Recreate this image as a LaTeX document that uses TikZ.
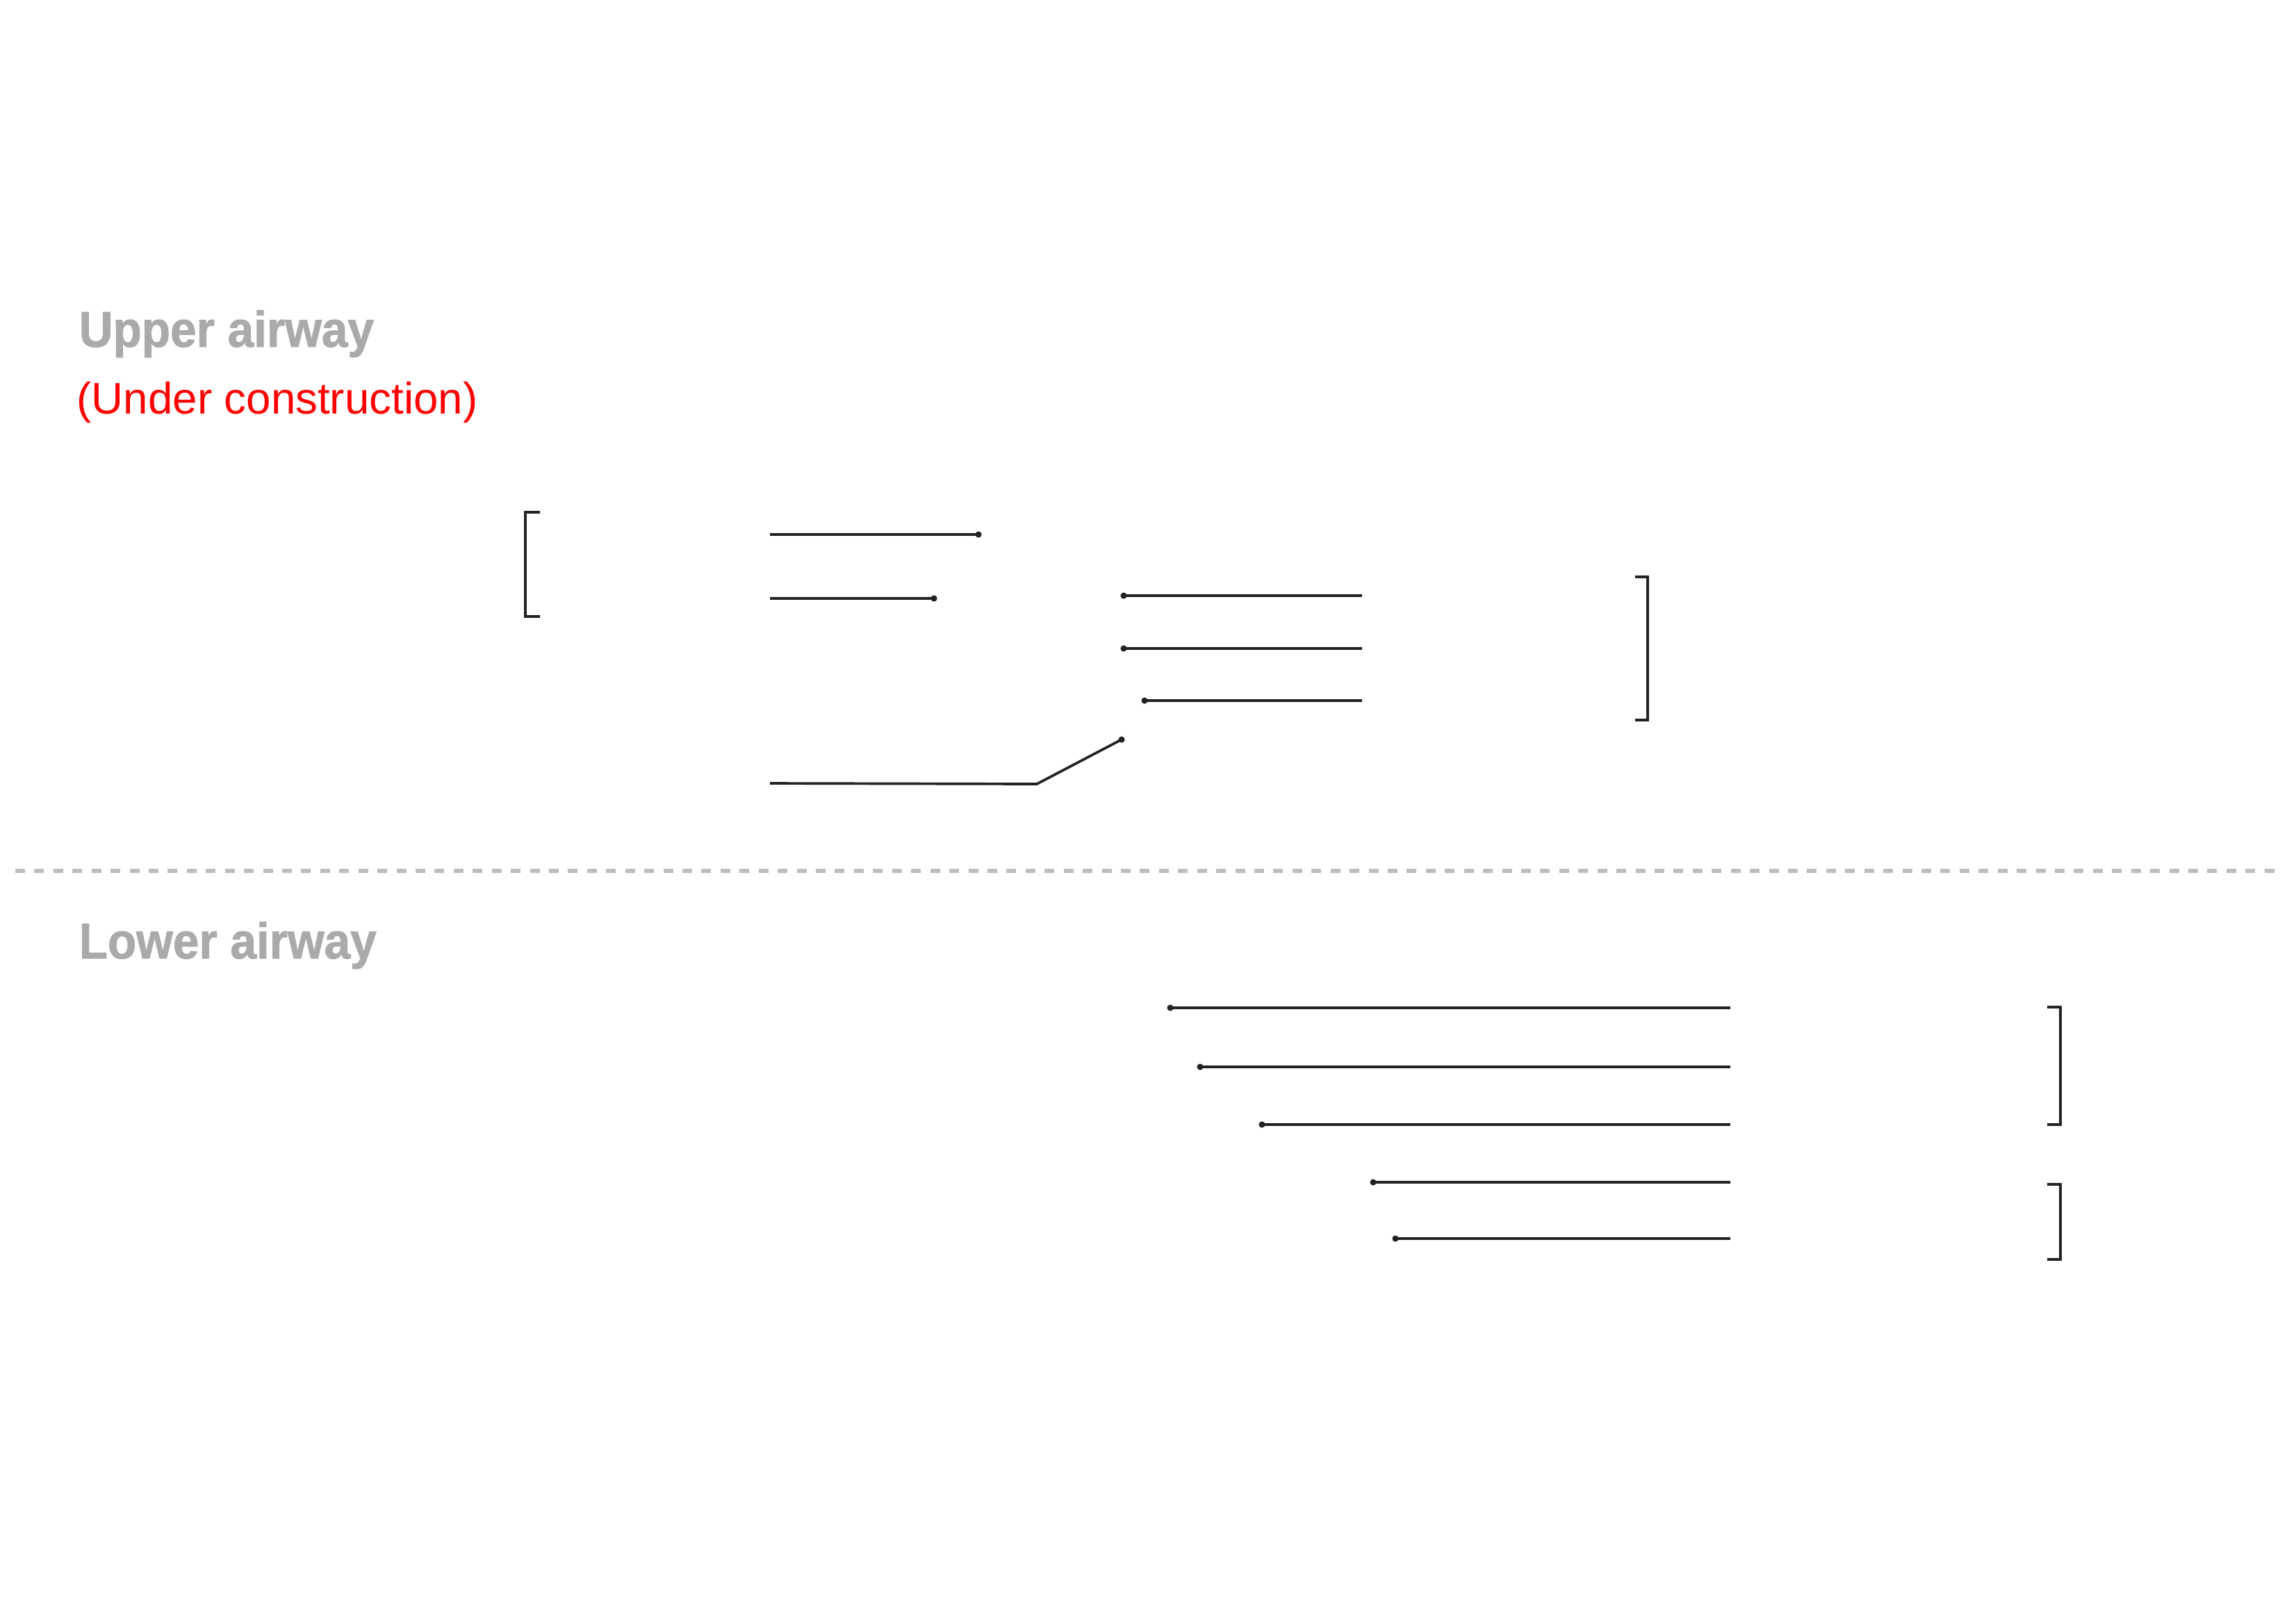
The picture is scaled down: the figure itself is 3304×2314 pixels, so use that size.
\documentclass[tikz,border=0pt]{standalone}
\usepackage{fontspec}
\setmainfont{Liberation Sans}
\newfontfamily\headfont[FakeStretch=0.93, BoldFeatures={FakeBold=1.2}]{Liberation Sans}
\usetikzlibrary{calc}
\definecolor{headgray}{HTML}{AAAAAA}
\definecolor{dashgray}{HTML}{BDBDBD}
\definecolor{ink}{HTML}{222222}
\definecolor{warnred}{HTML}{FF0000}
\tikzset{
  leader/.style={draw=ink, line width=1.05pt, line cap=butt},
  brack/.style={draw=ink, line width=1.05pt, line join=miter, line cap=butt},
  enddot/.style={fill=ink},
  heading/.style={anchor=base west, inner sep=0pt, text=headgray, font=\headfont\bfseries\fontsize{20.66pt}{24pt}\selectfont},
  note/.style={anchor=base west, inner sep=0pt, text=warnred, font=\fontsize{18.1pt}{22pt}\selectfont},
  divider/.style={draw=dashgray, line width=1.9pt, dash pattern=on 3.98pt off 3.82pt}
}
\begin{document}
\begin{tikzpicture}[x=0.01cm, y=-0.01cm]
\useasboundingbox (0,0) rectangle (3304,2314);
% headings
\node[heading] (up) at (113,499) {Upper airway};
\node[note] (uc) at (110,595) {(Under construction)};
\node[heading] (low) at (113,1379) {Lower airway};
% divider
\coordinate (dl) at (22,1253);
\coordinate (dr) at (3281,1253);
\draw[divider] (dl) -- (dr);
% ---------- upper airway ----------
% left bracket
\coordinate (lb1) at (777,737);
\coordinate (lb2) at (756,737);
\coordinate (lb3) at (756,887);
\coordinate (lb4) at (777,887);
\draw[brack] (lb1) -- (lb2) -- (lb3) -- (lb4);
% left leaders
\coordinate (a1) at (1108,769);  \coordinate (a1e) at (1408,769);
\coordinate (a2) at (1108,861);  \coordinate (a2e) at (1344,861);
\coordinate (a3) at (1108,1127); \coordinate (a3m) at (1492,1128); \coordinate (a3e) at (1614,1064);
\draw[leader] (a1) -- (a1e);
\draw[leader] (a2) -- (a2e);
\draw[leader, line join=miter] (a3) -- (a3m) -- (a3e);
\fill[enddot] (a1e) circle[radius=1.3pt];
\fill[enddot] (a2e) circle[radius=1.3pt];
\fill[enddot] (a3e) circle[radius=1.3pt];
% right leaders
\coordinate (b1) at (1617,857);  \coordinate (b1e) at (1960,857);
\coordinate (b2) at (1617,933);  \coordinate (b2e) at (1960,933);
\coordinate (b3) at (1647,1008); \coordinate (b3e) at (1960,1008);
\draw[leader] (b1) -- (b1e);
\draw[leader] (b2) -- (b2e);
\draw[leader] (b3) -- (b3e);
\fill[enddot] (b1) circle[radius=1.3pt];
\fill[enddot] (b2) circle[radius=1.3pt];
\fill[enddot] (b3) circle[radius=1.3pt];
% right bracket
\coordinate (rb1) at (2353,830);
\coordinate (rb2) at (2371,830);
\coordinate (rb3) at (2371,1036);
\coordinate (rb4) at (2353,1036);
\draw[brack] (rb1) -- (rb2) -- (rb3) -- (rb4);
% ---------- lower airway ----------
\coordinate (c1) at (1684,1450); \coordinate (c1e) at (2490,1450);
\coordinate (c2) at (1727,1535); \coordinate (c2e) at (2490,1535);
\coordinate (c3) at (1816,1618); \coordinate (c3e) at (2490,1618);
\coordinate (c4) at (1976,1701); \coordinate (c4e) at (2490,1701);
\coordinate (c5) at (2008,1782); \coordinate (c5e) at (2490,1782);
\foreach \p in {c1,c2,c3,c4,c5}{
  \draw[leader] (\p) -- (\p e);
  \fill[enddot] (\p) circle[radius=1.3pt];
}
% lower brackets
\coordinate (d1) at (2946,1449);
\coordinate (d2) at (2965,1449);
\coordinate (d3) at (2965,1618);
\coordinate (d4) at (2946,1618);
\draw[brack] (d1) -- (d2) -- (d3) -- (d4);
\coordinate (e1) at (2946,1704);
\coordinate (e2) at (2965,1704);
\coordinate (e3) at (2965,1812);
\coordinate (e4) at (2946,1812);
\draw[brack] (e1) -- (e2) -- (e3) -- (e4);
\end{tikzpicture}
\end{document}
